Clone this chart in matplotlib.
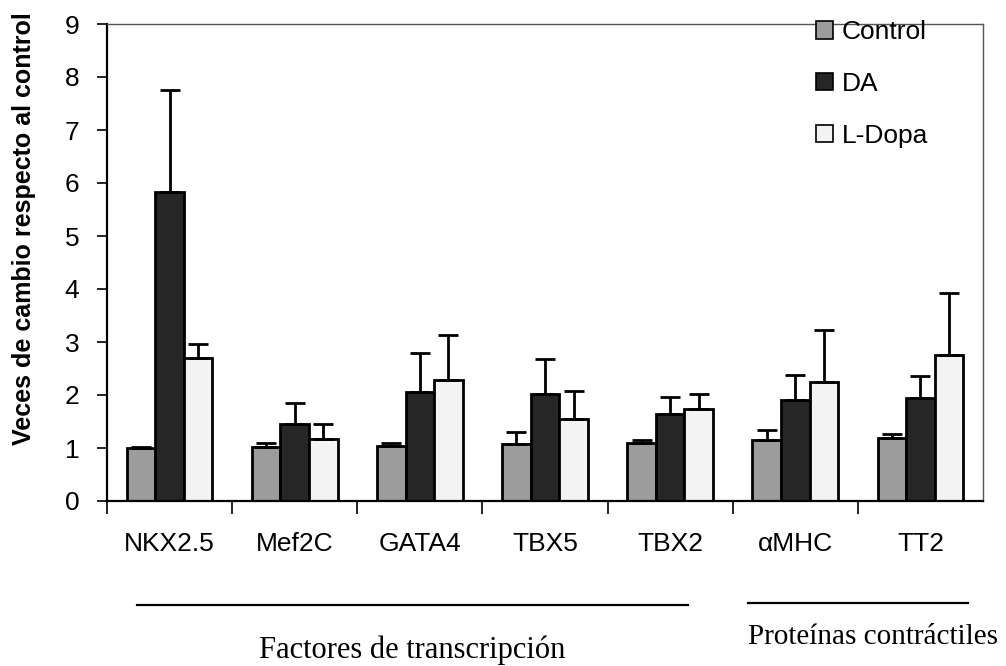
import numpy as np
import matplotlib
matplotlib.use("Agg")
import matplotlib.pyplot as plt
from matplotlib.patches import Patch
from matplotlib.ticker import FixedLocator

categories = ["NKX2.5", "Mef2C", "GATA4", "TBX5", "TBX2", "\u03b1MHC", "TT2"]
series_names = ["Control", "DA", "L-Dopa"]
control = [1.00, 1.02, 1.04, 1.08, 1.10, 1.15, 1.19]
control_err = [0.02, 0.07, 0.06, 0.22, 0.05, 0.19, 0.07]
da = [5.83, 1.45, 2.06, 2.02, 1.64, 1.91, 1.94]
da_err = [1.92, 0.40, 0.74, 0.66, 0.32, 0.47, 0.42]
ldopa = [2.70, 1.17, 2.28, 1.55, 1.74, 2.25, 2.75]
ldopa_err = [0.27, 0.28, 0.85, 0.53, 0.28, 0.98, 1.17]
yticks = [0, 1, 2, 3, 4, 5, 6, 7, 8, 9]
group_labels = ["Factores de transcripci\u00f3n", "Prote\u00ednas contr\u00e1ctiles"]

plt.rcParams['font.family'] = ['Liberation Sans', 'DejaVu Sans']

fig = plt.figure(figsize=(10.06, 6.66), dpi=100)
L, R, T, B = 107, 983, 24, 501
ax = fig.add_axes([L / 1006, 1 - B / 666, (R - L) / 1006, (B - T) / 666])

x = np.arange(len(categories))
w = 0.228
colors = ["#9c9c9c", "#262626", "#f3f3f3"]
vals = [control, da, ldopa]
errs = [control_err, da_err, ldopa_err]
for i, (v, e, c, n) in enumerate(zip(vals, errs, colors, series_names)):
    ax.bar(x + (i - 1) * w, v, width=w, color=c, edgecolor="black", linewidth=2,
           yerr=[np.zeros(len(e)), e], capsize=7,
           error_kw=dict(elinewidth=2, capthick=2, ecolor="black"), label=n, zorder=2)

ax.set_xlim(-0.5, len(categories) - 0.5)
ax.set_ylim(0, 9)
ax.set_yticks(yticks)
ax.set_yticklabels([str(t) for t in yticks], fontsize=19)
ax.set_xticks(x)
ax.set_xticklabels(categories, fontsize=19)
ax.tick_params(axis="x", which="major", length=0, pad=22)
ax.xaxis.set_minor_locator(FixedLocator(np.arange(-0.5, len(categories) - 1, 1.0)))
ax.tick_params(axis="x", which="minor", length=9, width=1.2, direction="out")
ax.tick_params(axis="y", length=7, width=1.2, direction="out", pad=13)

for s in ["left", "bottom"]:
    ax.spines[s].set_linewidth(1.6)
for s in ["top", "right"]:
    ax.spines[s].set_linewidth(1.0)
    ax.spines[s].set_color("#555555")

ax.set_ylabel("Veces de cambio respecto al control", fontsize=18, fontweight="bold")
ax.yaxis.set_label_coords(-0.081, 0.572)

handles = [Patch(facecolor=c, edgecolor="black", linewidth=1.2) for c in colors]
ax.legend(handles, series_names, loc="upper left", bbox_to_anchor=(0.809, 1.008), frameon=False,
          fontsize=19, handlelength=0.65, handleheight=0.65, handletextpad=0.35,
          labelspacing=1.05, borderpad=0, borderaxespad=0)

trans = ax.get_xaxis_transform()
ax.plot([-0.26, 4.14], [-0.218, -0.218], color="black", linewidth=1.6, transform=trans, clip_on=False)
ax.plot([4.62, 6.38], [-0.214, -0.214], color="black", linewidth=1.6, transform=trans, clip_on=False)
ax.text(1.94, -0.312, group_labels[0], transform=trans, ha="center", va="center",
        fontsize=22, family=["Liberation Serif", "DejaVu Serif"])
ax.text(5.62, -0.285, group_labels[1], transform=trans, ha="center", va="center",
        fontsize=21, family=["Liberation Serif", "DejaVu Serif"])

fig.savefig("out.png", dpi=100)
